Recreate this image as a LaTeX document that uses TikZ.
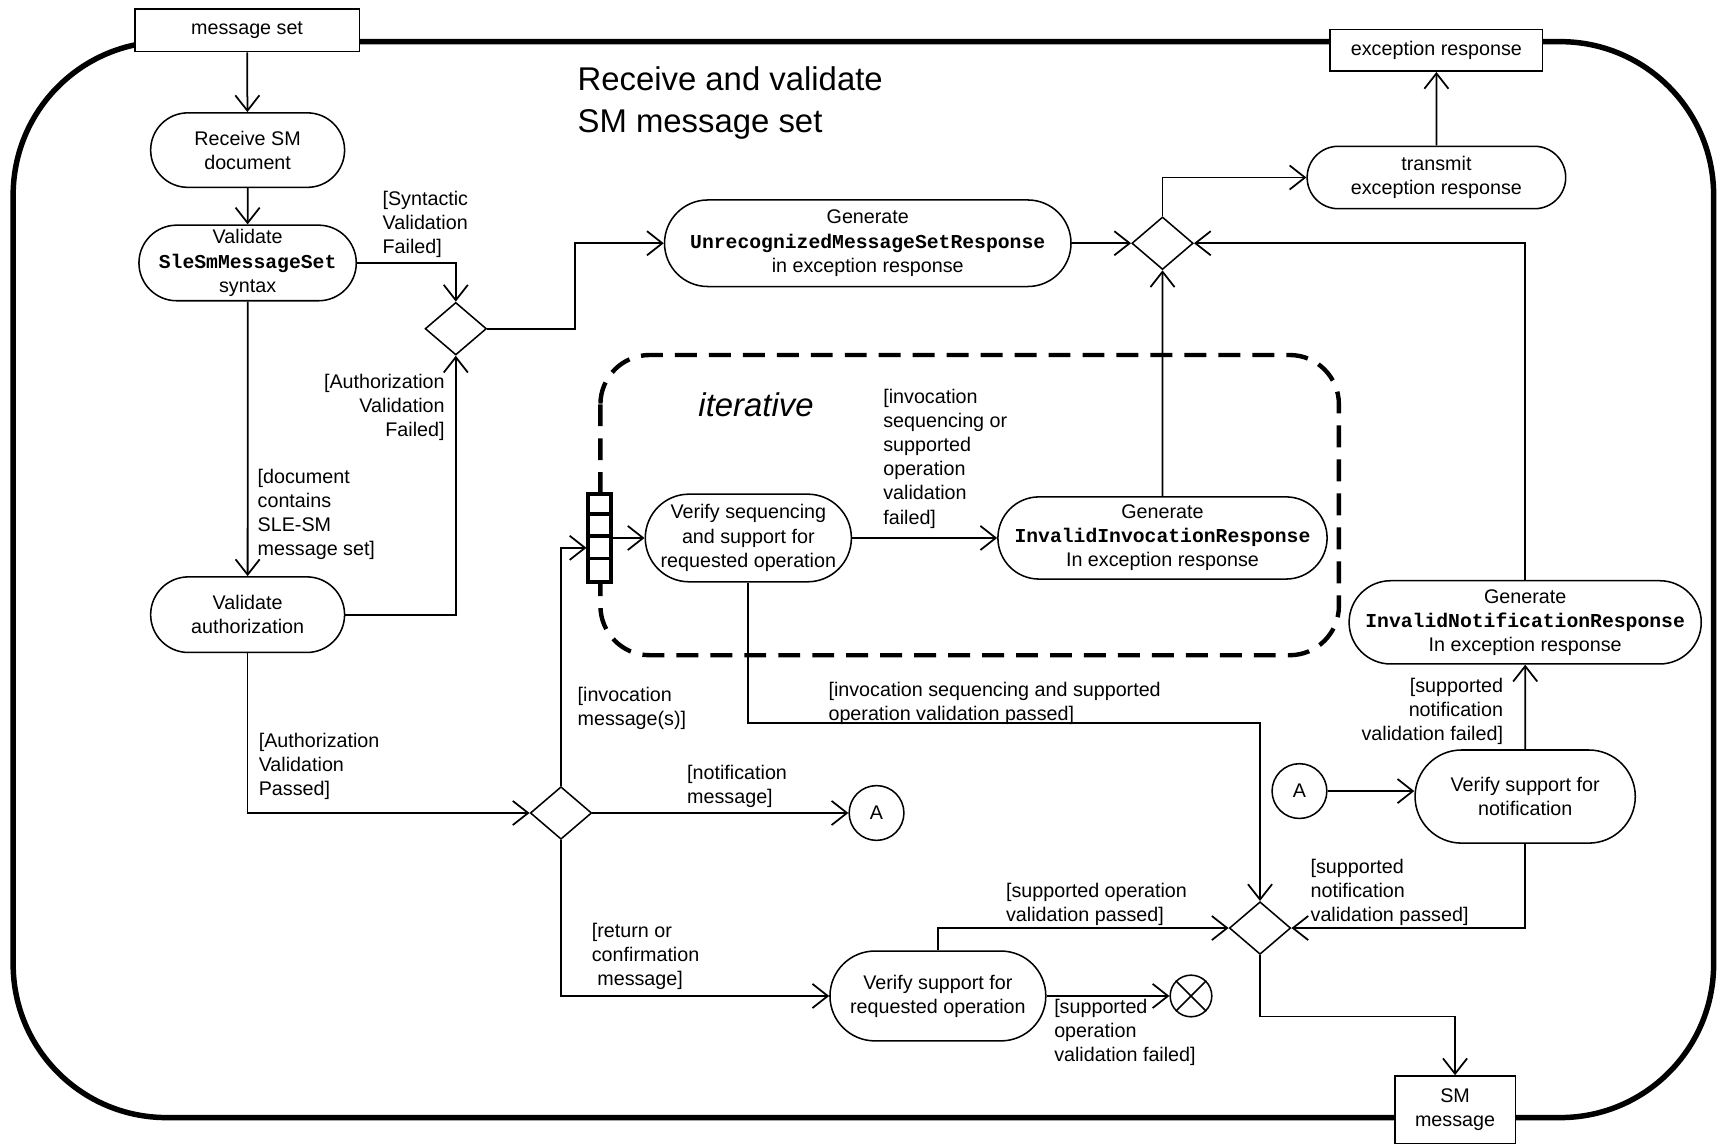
\documentclass[tikz,border=0pt]{standalone}
\usepackage{fontspec}
\setmainfont{Liberation Sans}
\setmonofont{Liberation Mono}
\usetikzlibrary{arrows.meta,positioning,shapes.geometric,shapes.misc}
\newcommand\diagfont{\fontsize{18}{22}\selectfont}
\newcommand\bigfont{\fontsize{30}{38}\selectfont}
\newcommand\code[1]{{\ttfamily\bfseries #1}}

\begin{document}
\begin{tikzpicture}[x=1pt, y=-1pt,
  action/.style={draw, rounded rectangle, line width=1.4pt, fill=white, align=center, font=\diagfont, inner sep=0pt},
  objbox/.style={draw, rectangle, line width=1.4pt, fill=white, align=center, font=\diagfont, inner sep=0pt},
  branch/.style={draw, diamond, line width=1.4pt, fill=white, minimum width=56pt, minimum height=48pt, inner sep=0pt},
  conn/.style={draw, circle, line width=1.4pt, fill=white, minimum size=50pt, inner sep=0pt, font=\diagfont},
  guard/.style={font=\diagfont, align=left, inner sep=0pt},
  flow/.style={line width=1.6pt, -{Straight Barb[length=14pt,width=22pt]}}
]
\useasboundingbox (0,0) rectangle (1568,1044);

% Activity frame
\draw[line width=5pt, rounded corners=140pt] (12,38) rectangle (1564,1020);
\node[anchor=north west, align=left, font=\bigfont, inner sep=0pt] (title) at (527,61) {Receive and validate\\SM message set};

% Iterative region
\draw[line width=4pt, dash pattern=on 20pt off 11pt, rounded corners=45pt] (548,324) rectangle (1222,598);
\node[font=\bigfont\itshape] (iter) at (690,369) {iterative};

% Parameter boxes on the frame
\node[objbox, minimum width=205pt, minimum height=39pt] (msgset) at (225.5,27.5) {message set};
\node[objbox, minimum width=194pt, minimum height=38pt] (excresp) at (1311,46) {exception response};
\node[objbox, minimum width=110pt, minimum height=62pt] (smmsg) at (1328,1013) {SM\\message};

% Left column
\node[action, minimum width=177pt, minimum height=68pt] (recv) at (226,137) {Receive SM\\document};
\node[action, minimum width=177pt, minimum height=69pt] (valsyn) at (226,240) {Validate\\\code{SleSmMessageSet}\\syntax};
\node[action, minimum width=177pt, minimum height=69pt] (valauth) at (226,561) {Validate\\authorization};

% Exception path
\node[action, minimum width=371pt, minimum height=79pt] (genunrec) at (792,222) {Generate\\\code{UnrecognizedMessageSetResponse}\\in exception response};
\node[action, minimum width=236pt, minimum height=57pt] (transmit) at (1311,162) {transmit\\exception response};
\node[action, minimum width=297pt, minimum height=75pt] (geninv) at (1061,491) {Generate\\\code{InvalidInvocationResponse}\\In exception response};
\node[action, minimum width=311pt, minimum height=76pt] (gennot) at (1392,568) {Generate\\\code{InvalidNotificationResponse}\\In exception response};

% Verification actions
\node[action, minimum width=184pt, minimum height=80pt] (verseq) at (683,491) {Verify sequencing\\and support for\\requested operation};
\node[action, minimum width=201pt, minimum height=85pt] (vernot) at (1392,727) {Verify support for\\notification};
\node[action, minimum width=197pt, minimum height=82pt] (verop) at (856,909) {Verify support for\\requested operation};

% Decisions and merges
\node[branch] (dec1) at (416,300) {};
\node[branch] (merge1) at (1061,222) {};
\node[branch] (dec2) at (512,742) {};
\node[branch] (merge2) at (1150,847) {};

% Connectors and flow final
\node[conn] (conA1) at (800,742) {A};
\node[conn] (conA2) at (1186,722) {A};
\node[draw, circle, line width=1.4pt, fill=white, minimum size=38pt, inner sep=0pt] (final) at (1087,909) {};
\draw[line width=1.4pt] (final.45) -- (final.225) (final.135) -- (final.315);

% Expansion node
\node[draw, line width=3.5pt, fill=white, minimum width=21pt, minimum height=81pt, inner sep=0pt] (pin) at (547.5,491) {};
\foreach \k in {1,2,3}
  \draw[line width=3pt] ([yshift=-\k*20.25pt]pin.north west) -- ([yshift=-\k*20.25pt]pin.north east);

% Flows
\draw[flow] (msgset) -- (recv);
\draw[flow] (recv) -- (valsyn);
\draw[flow] (valsyn.east) -| (dec1.north);
\draw[flow] (valsyn) -- (valauth);
\draw[flow] (valauth.east) -| (dec1.south);
\draw[flow] (dec1.east) -- ++(80,0) |- (genunrec.west);
\draw[flow] (genunrec.east) -- (merge1.west);
\draw[flow] (merge1.north) |- (transmit.west);
\draw[flow] (transmit) -- (excresp);
\draw[flow] (geninv) -- (merge1);
\draw[flow] (gennot.north) |- (merge1.east);
\draw[flow] (valauth.south) |- (dec2.west);
\draw[flow] (dec2.north) |- ([yshift=-9pt]pin.west);
\draw[flow] (pin.east) -- (verseq.west);
\draw[flow] (verseq.east) -- (geninv.west);
\draw[flow] (verseq.south) -- ++(0,128) -| (merge2.north);
\draw[flow] (dec2.east) -- (conA1.west);
\draw[flow] (dec2.south) |- (verop.west);
\draw[flow] (verop.north) |- (merge2.west);
\draw[flow] (verop.east) -- (final.west);
\draw[flow] (conA2.east) -- (conA2.east -| vernot.west);
\draw[flow] (vernot) -- (gennot);
\draw[flow] (vernot.south) |- (merge2.east);
\draw[flow] (merge2.south) -- ++(0,56) -| (smmsg.north);

% Guards
\node[guard, anchor=north west] (gsyn) at (349,174) {[Syntactic\\Validation\\Failed]};
\node[guard, anchor=north west] (gdoc) at (235,428) {[document\\contains\\SLE-SM\\message set]};
\node[guard, align=right, anchor=north east] (gauthf) at (406,341) {[Authorization\\Validation\\Failed]};
\node[guard, anchor=north west] (gauthp) at (236,669) {[Authorization\\Validation\\Passed]};
\node[guard, anchor=north west] (ginv) at (527,627) {[invocation\\message(s)]};
\node[guard, anchor=north west] (gseqf) at (806,355) {[invocation\\sequencing or\\supported\\operation\\validation\\failed]};
\node[guard, anchor=north west] (gseqp) at (756,622) {[invocation sequencing and supported\\operation validation passed]};
\node[guard, anchor=north west] (gnot) at (627,698) {[notification\\message]};
\node[guard, anchor=north west] (gret) at (540,842) {[return or\\confirmation\\\ message]};
\node[guard, anchor=north west] (gopp) at (918,806) {[supported operation\\validation passed]};
\node[guard, anchor=north west] (gopf) at (962,912) {[supported\\operation\\validation failed]};
\node[guard, align=right, anchor=north east] (gnotf) at (1372,619) {[supported\\notification\\validation failed]};
\node[guard, anchor=north west] (gnotp) at (1196,784) {[supported\\notification\\validation passed]};

\end{tikzpicture}
\end{document}
